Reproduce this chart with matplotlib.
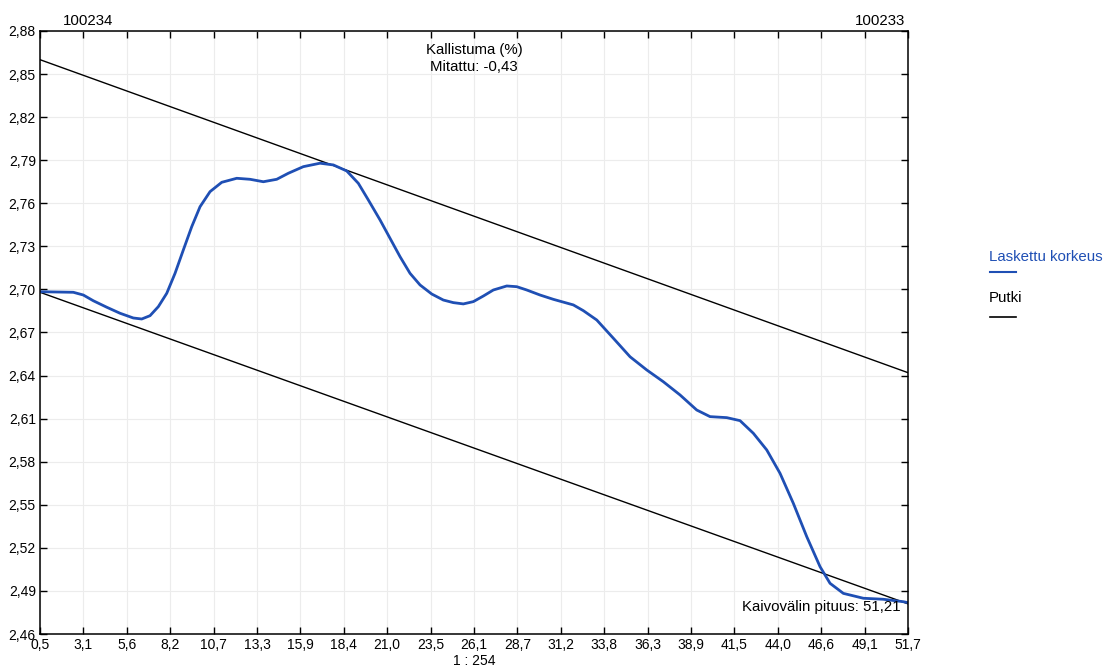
import matplotlib.pyplot as plt

plt.rcParams['font.family'] = ['Liberation Sans', 'DejaVu Sans']

# measured height profile along the pipe section
dist = [0.50, 1.485, 2.464, 3.054, 3.644, 4.434, 5.219, 6.003, 6.499, 6.988,
        7.478, 7.974, 8.463, 8.953, 9.448, 9.938, 10.528, 11.218, 12.103, 12.887,
        13.672, 14.462, 15.146, 16.031, 17.016, 17.801, 18.591, 19.275, 19.865,
        20.555, 21.145, 21.735, 22.325, 22.915, 23.605, 24.289, 24.879, 25.469,
        26.059, 26.649, 27.239, 28.029, 28.619, 29.209, 29.993, 30.778, 31.958,
        32.548, 33.338, 34.317, 35.302, 36.287, 37.266, 38.251, 39.236, 40.021,
        41.006, 41.790, 42.575, 43.365, 44.150, 44.934, 45.725, 46.509, 47.099,
        47.884, 49.064, 50.243, 51.423, 51.70]
height = [2.6984, 2.6982, 2.6980, 2.6961, 2.6921, 2.6876, 2.6834, 2.6801, 2.6794,
          2.6817, 2.6880, 2.6973, 2.7112, 2.7275, 2.7437, 2.7576, 2.7681, 2.7746,
          2.7774, 2.7767, 2.7750, 2.7767, 2.7809, 2.7855, 2.7879, 2.7867, 2.7825,
          2.7739, 2.7623, 2.7484, 2.7356, 2.7228, 2.7112, 2.7031, 2.6968, 2.6926,
          2.6908, 2.6899, 2.6915, 2.6954, 2.6996, 2.7024, 2.7019, 2.6996, 2.6961,
          2.6931, 2.6892, 2.6852, 2.6787, 2.6660, 2.6531, 2.6439, 2.6357, 2.6265,
          2.6160, 2.6114, 2.6107, 2.6086, 2.5998, 2.5882, 2.5719, 2.5510, 2.5278,
          2.5069, 2.4953, 2.4883, 2.4849, 2.4842, 2.4825, 2.4818]

# pipe tolerance lines (slope -0,43 %)
pipe_x = [0.5, 51.7]
pipe_top = [2.86, 2.642]
pipe_bottom = [2.698, 2.481]

xticks = [0.5, 3.06, 5.62, 8.18, 10.74, 13.3, 15.86, 18.42, 20.98, 23.54, 26.1,
          28.66, 31.22, 33.78, 36.34, 38.9, 41.46, 44.02, 46.58, 49.14, 51.7]
yticks = [2.46, 2.49, 2.52, 2.55, 2.58, 2.61, 2.64, 2.67, 2.70, 2.73, 2.76,
          2.79, 2.82, 2.85, 2.88]

blue = '#1f4fb4'
fs = 10.8

fig = plt.figure(figsize=(11.09, 6.69), dpi=100)
ax = fig.add_axes([0.0361, 0.0523, 0.7827, 0.9014])

ax.plot(pipe_x, pipe_top, color='black', lw=1.0)
ax.plot(pipe_x, pipe_bottom, color='black', lw=1.0)
ax.plot(dist, height, color=blue, lw=2.0, solid_joinstyle='round')

ax.set_xlim(0.5, 51.7)
ax.set_ylim(2.46, 2.88)
ax.set_xticks(xticks)
ax.set_xticklabels([f'{v:.1f}'.replace('.', ',') for v in xticks])
ax.set_yticks(yticks)
ax.set_yticklabels([f'{v:.2f}'.replace('.', ',') for v in yticks])
ax.tick_params(direction='in', length=5, width=1, labelsize=10,
               top=True, right=True)
ax.tick_params(axis='x', pad=3)
ax.tick_params(axis='y', pad=3)
ax.grid(True, color='#ececec', lw=0.8)
for s in ax.spines.values():
    s.set_linewidth(1.1)

ax.text(0.055, 1.005, '100234', transform=ax.transAxes, fontsize=fs, ha='center', va='bottom')
ax.text(0.968, 1.005, '100233', transform=ax.transAxes, fontsize=fs, ha='center', va='bottom')
ax.text(0.5, 0.9685, 'Kallistuma (%)', transform=ax.transAxes,
        fontsize=fs, ha='center', va='center')
ax.text(0.5, 0.940, 'Mitattu: -0,43', transform=ax.transAxes,
        fontsize=fs, ha='center', va='center')
ax.text(0.992, 0.0448, 'Kaivovälin pituus: 51,21', transform=ax.transAxes,
        fontsize=fs, ha='right', va='center')
fig.text(0.4275, 0.001, '1 : 254', fontsize=10, ha='center', va='bottom')

# legend drawn by hand: label above a short line sample
fig.text(0.892, 0.616, 'Laskettu korkeus', color=blue, fontsize=fs, va='center')
fig.add_artist(plt.Line2D([0.893, 0.916], [0.594, 0.594], color=blue, lw=1.5))
fig.text(0.892, 0.555, 'Putki', color='black', fontsize=fs, va='center')
fig.add_artist(plt.Line2D([0.893, 0.916], [0.526, 0.526], color='black', lw=1.2))

fig.savefig('out.png', dpi=100)
